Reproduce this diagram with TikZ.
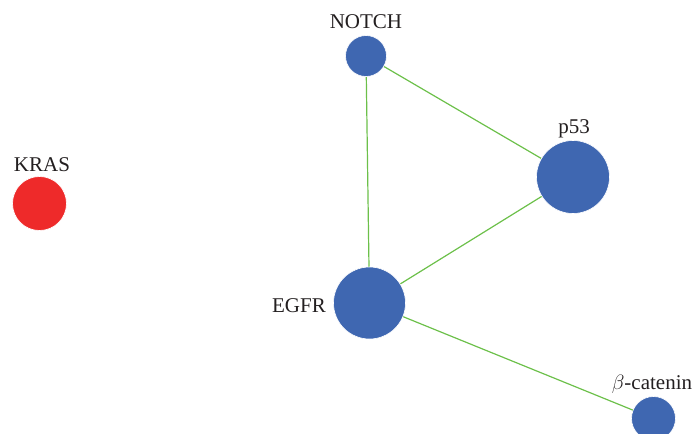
\documentclass[tikz,border=0pt]{standalone}
\usepackage{fontspec}
\setmainfont{Liberation Serif}
\definecolor{nodeblue}{RGB}{63,103,177}
\definecolor{nodered}{RGB}{238,42,42}
\definecolor{edgegreen}{RGB}{108,192,74}
\definecolor{labelgray}{RGB}{35,31,32}
\begin{document}
\begin{tikzpicture}[x=1pt,y=1pt,yscale=-1,xscale=1,
	gene/.style={circle,draw=white,line width=0.6pt,fill=nodeblue,inner sep=0pt},
	link/.style={draw=edgegreen,line width=1.2pt},
	genelabel/.style={inner sep=0pt,text=labelgray,font=\fontsize{21}{25}\selectfont}]
	\useasboundingbox (0,0) rectangle (694,434);

	%Edges
	\coordinate (notchc) at (366,56);
	\coordinate (p53c) at (573,177);
	\coordinate (egfrc) at (369.5,303);
	\coordinate (betac) at (653.5,418.5);

	\draw [link] (notchc) -- (p53c);
	\draw [link] (notchc) -- (egfrc);
	\draw [link] (p53c) -- (egfrc);
	\draw [link] (egfrc) -- (betac);

	%Nodes
	\node [gene,minimum size=41pt] (notch) at (notchc) {};
	\node [gene,minimum size=73pt] (p53) at (p53c) {};
	\node [gene,minimum size=72pt] (egfr) at (egfrc) {};
	\node [gene,minimum size=44pt] (beta) at (betac) {};
	\node [gene,fill=nodered,minimum size=54pt] (kras) at (39.5,203.5) {};

	% Text Node
	\node [genelabel] (notchlabel) at (366,22) {NOTCH};
	% Text Node
	\node [genelabel] (p53label) at (574,129) {p53};
	% Text Node
	\node [genelabel,anchor=east] (egfrlabel) at (326,306) {EGFR};
	% Text Node
	\node [genelabel] (betalabel) at (652,384) {$\beta$-catenin};
	% Text Node
	\node [genelabel] (kraslabel) at (42,165) {KRAS};
\end{tikzpicture}
\end{document}
